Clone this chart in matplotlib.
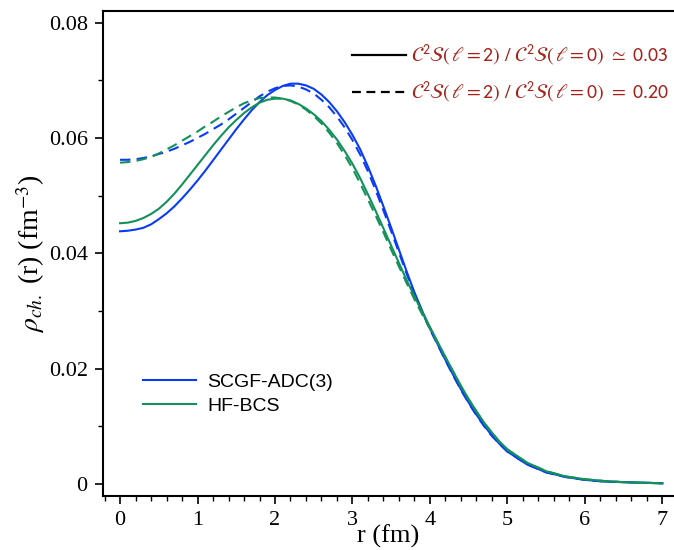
import matplotlib
matplotlib.use("Agg")
import matplotlib.pyplot as plt
from matplotlib.lines import Line2D
from matplotlib.ticker import MultipleLocator


# radial grid (fm): fine steps up to 5 fm, coarser in the flat tail
r = [0.0, 0.1, 0.2, 0.3, 0.4, 0.5, 0.6, 0.7, 0.8, 0.9,
     1.0, 1.1, 1.2, 1.3, 1.4, 1.5, 1.6, 1.7, 1.8, 1.9,
     2.0, 2.1, 2.2, 2.3, 2.4, 2.5, 2.6, 2.7, 2.8, 2.9,
     3.0, 3.1, 3.2, 3.3, 3.4, 3.5, 3.6, 3.7, 3.8, 3.9,
     4.0, 4.1, 4.2, 4.3, 4.4, 4.5, 4.6, 4.7, 4.8, 4.9,
     5.0, 5.25, 5.5, 5.75, 6.0, 6.25, 6.5, 6.75, 7.0]

# charge densities (fm^-3)
scgf_003 = [0.0438, 0.0439, 0.0441, 0.0444, 0.0450, 0.0459, 0.0469, 0.0481, 0.0495, 0.0510,
            0.0526, 0.0543, 0.0561, 0.0579, 0.0597, 0.0615, 0.0632, 0.0648, 0.0662, 0.0674,
            0.0683, 0.0690, 0.0694, 0.0694, 0.0691, 0.0685, 0.0675, 0.0662, 0.0646, 0.0627,
            0.0605, 0.0580, 0.0550, 0.0517, 0.0481, 0.0444, 0.0406, 0.0368, 0.0332, 0.0300,
            0.0270, 0.0242, 0.0215, 0.0189, 0.0164, 0.0141, 0.0120, 0.0101, 0.0084, 0.0069,
            0.0056, 0.0034, 0.0020, 0.0012, 0.0007, 0.0004, 0.0003, 0.0002, 0.0001]
scgf_020 = [0.0562, 0.0562, 0.0563, 0.0565, 0.0568, 0.0572, 0.0576, 0.0581, 0.0587, 0.0593,
            0.0600, 0.0607, 0.0615, 0.0623, 0.0632, 0.0642, 0.0652, 0.0662, 0.0672, 0.0680,
            0.0686, 0.0690, 0.0691, 0.0689, 0.0684, 0.0677, 0.0666, 0.0653, 0.0637, 0.0618,
            0.0596, 0.0571, 0.0542, 0.0509, 0.0474, 0.0438, 0.0401, 0.0364, 0.0329, 0.0298,
            0.0268, 0.0241, 0.0214, 0.0188, 0.0163, 0.0140, 0.0119, 0.0100, 0.0083, 0.0069,
            0.0056, 0.0034, 0.0020, 0.0012, 0.0007, 0.0004, 0.0003, 0.0002, 0.0001]
hfbcs_003 = [0.0452, 0.0453, 0.0456, 0.0461, 0.0468, 0.0477, 0.0489, 0.0503, 0.0519, 0.0536,
             0.0553, 0.0570, 0.0587, 0.0603, 0.0618, 0.0631, 0.0643, 0.0653, 0.0661, 0.0666,
             0.0668, 0.0668, 0.0665, 0.0659, 0.0651, 0.0641, 0.0629, 0.0614, 0.0597, 0.0577,
             0.0555, 0.0530, 0.0502, 0.0473, 0.0443, 0.0413, 0.0383, 0.0353, 0.0325, 0.0298,
             0.0272, 0.0246, 0.0220, 0.0195, 0.0170, 0.0147, 0.0126, 0.0106, 0.0089, 0.0073,
             0.0060, 0.0037, 0.0022, 0.0013, 0.0008, 0.0005, 0.0003, 0.0002, 0.0001]
hfbcs_020 = [0.0557, 0.0558, 0.0560, 0.0563, 0.0567, 0.0573, 0.0580, 0.0587, 0.0595, 0.0603,
             0.0611, 0.0620, 0.0628, 0.0637, 0.0645, 0.0653, 0.0660, 0.0665, 0.0669, 0.0670,
             0.0670, 0.0668, 0.0664, 0.0658, 0.0649, 0.0638, 0.0625, 0.0609, 0.0591, 0.0570,
             0.0547, 0.0521, 0.0493, 0.0465, 0.0436, 0.0406, 0.0377, 0.0348, 0.0320, 0.0294,
             0.0269, 0.0244, 0.0219, 0.0194, 0.0169, 0.0146, 0.0125, 0.0105, 0.0088, 0.0072,
             0.0059, 0.0037, 0.0022, 0.0013, 0.0008, 0.0005, 0.0003, 0.0002, 0.0001]

BLUE = "#0a3cf5"
GREEN = "#14905a"
RED = "#a3221c"

plt.rcParams["font.family"] = ["Liberation Serif", "DejaVu Serif"]

fig = plt.figure(figsize=(6.74, 5.5), dpi=100)
ax = fig.add_axes([103 / 674, 1 - 496 / 550, 1 - 103 / 674, (496 - 11) / 550])

lw = 1.5
ax.plot(r, scgf_003, color=BLUE, lw=lw)
ax.plot(r, scgf_020, color=BLUE, lw=lw, ls=(0, (5, 3)))
ax.plot(r, hfbcs_003, color=GREEN, lw=lw)
ax.plot(r, hfbcs_020, color=GREEN, lw=lw, ls=(0, (5, 3)))

ax.set_xlim(-0.22, 7.15)
ax.set_ylim(-0.0021, 0.082)

ax.yaxis.set_minor_locator(MultipleLocator(0.01))
ax.set_yticks([0, 0.02, 0.04, 0.06, 0.08])
ax.set_yticklabels(["0", "0.02", "0.04", "0.06", "0.08"])
ax.set_xticks(range(8))
# no minor tick past 7
ax.set_xticks([t / 5 for t in range(-1, 36)], minor=True)

ax.spines["right"].set_visible(False)
for s in ["left", "bottom", "top"]:
    ax.spines[s].set_linewidth(1.5)
ax.tick_params(which="major", direction="out", length=6, width=1.2, labelsize=16, pad=5)
ax.tick_params(which="minor", direction="out", length=3.5, width=1.0)
ax.tick_params(top=False, right=False, which="both")

ax.set_xlabel("r (fm)", fontsize=19, labelpad=-4)
ax.set_ylabel(r"$\rho_{ch.}$ (r) (fm$^{-3}$)", fontsize=20, labelpad=1,
              math_fontfamily="stix")

# method legend
leg1 = ax.legend(
    handles=[Line2D([], [], color=BLUE, lw=lw), Line2D([], [], color=GREEN, lw=lw)],
    labels=["SCGF-ADC(3)", "HF-BCS"],
    loc="upper left", bbox_to_anchor=(143 / 674, 1 - 373 / 550), bbox_transform=fig.transFigure,
    frameon=False, borderpad=0, borderaxespad=0, handlelength=2.75, handletextpad=0.55,
    labelspacing=0.36, prop={"family": "Liberation Sans", "size": 14},
)
ax.add_artist(leg1)

# spectroscopic-factor ratio legend
lab_a = r"$\mathcal{C}^2\mathcal{S}(\,\ell=2)\ /\ \mathcal{C}^2\mathcal{S}(\,\ell=0)\ \simeq\ 0.03$"
lab_b = r"$\mathcal{C}^2\mathcal{S}(\,\ell=2)\ /\ \mathcal{C}^2\mathcal{S}(\,\ell=0)\ =\ 0.20$"
leg2 = ax.legend(
    handles=[Line2D([], [], color="black", lw=1.6), Line2D([], [], color="black", lw=1.6, ls=(0, (4, 2.5)))],
    labels=[lab_a, lab_b],
    loc="upper left", bbox_to_anchor=(352 / 674, 1 - 43 / 550), bbox_transform=fig.transFigure,
    frameon=False, borderpad=0, borderaxespad=0, handlelength=2.7, handletextpad=0.25,
    labelspacing=0.6, prop={"size": 14.3}, labelcolor=RED,
)
for t in leg2.get_texts():
    t.set_math_fontfamily("stixsans")

fig.savefig("out.png", dpi=100)
